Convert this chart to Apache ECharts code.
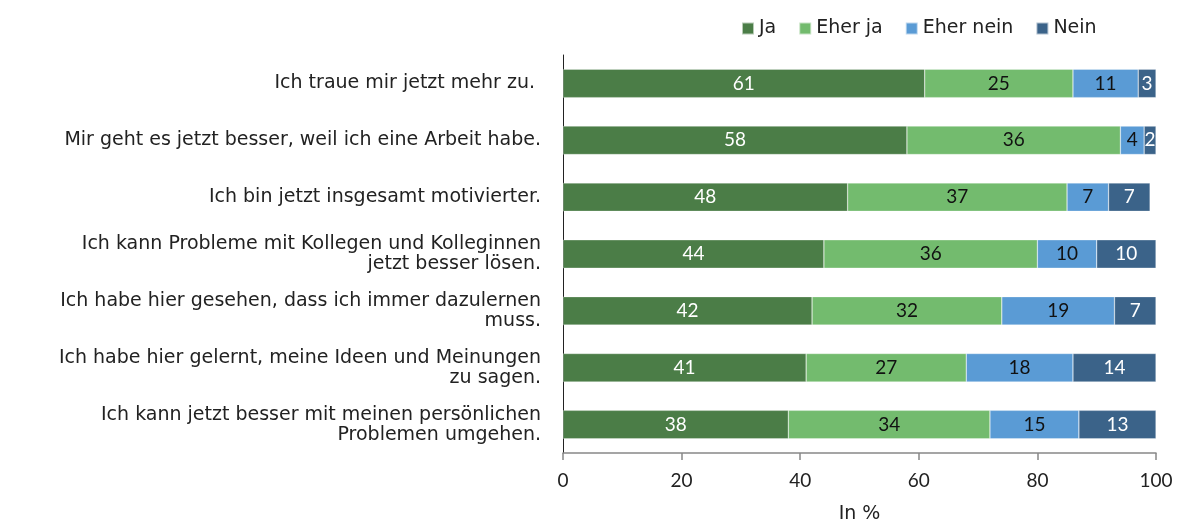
<!DOCTYPE html>
<html>
<head>
<meta charset="utf-8">
<script src="https://cdn.jsdelivr.net/npm/echarts@6/dist/echarts.min.js"></script>
<style>
  html, body { margin: 0; padding: 0; background: #fff; }
  #chart { width: 1177px; height: 522px; }
</style>
</head>
<body>
<div id="chart"></div>
<script>
var categories = [
  "Ich traue mir jetzt mehr zu. ",
  "Mir geht es jetzt besser, weil ich eine Arbeit habe.",
  "Ich bin jetzt insgesamt motivierter.",
  "Ich kann Probleme mit Kollegen und Kolleginnen\njetzt besser lösen.",
  "Ich habe hier gesehen, dass ich immer dazulernen\nmuss.",
  "Ich habe hier gelernt, meine Ideen und Meinungen\nzu sagen.",
  "Ich kann jetzt besser mit meinen persönlichen\nProblemen umgehen."
];
var ja = [61, 58, 48, 44, 42, 41, 38];
var eherJa = [25, 36, 37, 36, 32, 27, 34];
var eherNein = [11, 4, 7, 10, 19, 18, 15];
var nein = [3, 2, 7, 10, 7, 14, 13];
var xTicks = [0, 20, 40, 60, 80, 100];

var font = "'DejaVu Sans', sans-serif";
var numFont = "Lato, 'Noto Sans', sans-serif";

function mkSeries(name, data, color, labelColor) {
  return {
    name: name,
    type: 'bar',
    stack: 'total',
    data: data,
    barCategoryGap: '50%',
    itemStyle: { color: color, borderColor: 'rgba(255,255,255,0.6)', borderWidth: 0.5 },
    label: {
      show: true,
      position: 'inside',
      color: labelColor,
      fontFamily: numFont,
      fontSize: 19
    }
  };
}

var chart = echarts.init(document.getElementById('chart'));
chart.setOption({
  animation: false,
  textStyle: { fontFamily: font },
  legend: {
    top: 14,
    left: 736,
    itemWidth: 12,
    itemHeight: 12,
    itemGap: 22,
    icon: 'rect',
    textStyle: { fontSize: 19, color: '#222', fontFamily: font, padding: [0, 0, 0, 0] },
    data: ['Ja', 'Eher ja', 'Eher nein', 'Nein']
  },
  grid: { left: 563, right: 21, top: 55, bottom: 69, containLabel: false, outerBoundsMode: 'none' },
  xAxis: {
    type: 'value',
    min: 0,
    max: 100,
    interval: 20,
    name: 'In %',
    nameLocation: 'middle',
    nameGap: 52,
    nameTextStyle: { fontSize: 19, color: '#222', fontFamily: font },
    axisLine: { show: true, lineStyle: { color: '#888', width: 1.5 } },
    axisTick: { show: true, length: 7, lineStyle: { color: '#888', width: 1.5 } },
    axisLabel: {
      fontSize: 19,
      color: '#222',
      margin: 18,
      fontFamily: numFont,
      formatter: function (v) { return xTicks.indexOf(v) >= 0 ? String(v) : ''; }
    },
    splitLine: { show: false }
  },
  yAxis: {
    type: 'category',
    inverse: true,
    data: categories,
    axisLine: { show: true, lineStyle: { color: '#222', width: 1 } },
    axisTick: { show: false },
    axisLabel: {
      fontSize: 19,
      color: '#222',
      margin: 22,
      lineHeight: 20,
      fontFamily: font,
      align: 'right'
    }
  },
  series: [
    mkSeries('Ja', ja, '#4b7d47', '#ffffff'),
    mkSeries('Eher ja', eherJa, '#73bb6e', '#111111'),
    mkSeries('Eher nein', eherNein, '#5a9bd5', '#111111'),
    mkSeries('Nein', nein, '#3b6389', '#ffffff')
  ]
});
</script>
</body>
</html>
